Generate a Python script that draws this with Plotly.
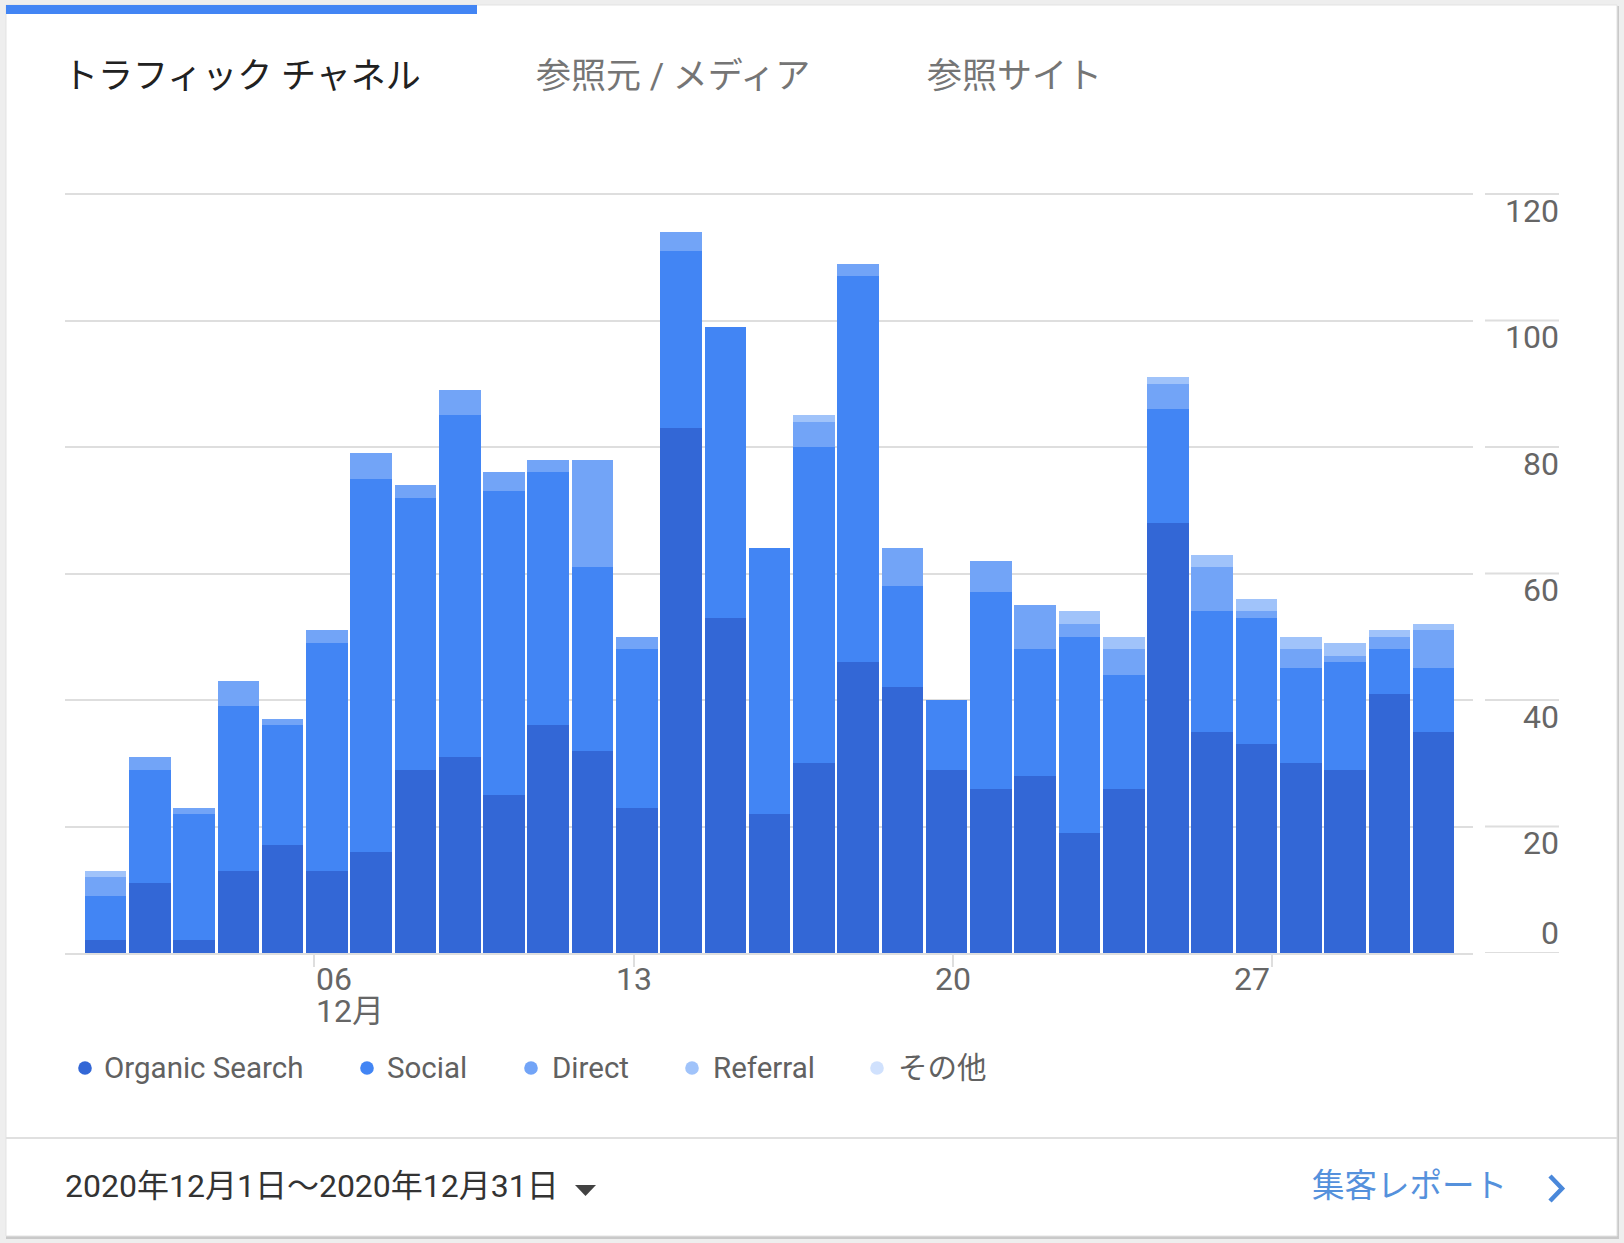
import plotly.graph_objects as go

# ---------------- data ----------------
days = list(range(1, 32))
organic = [2, 11, 2, 13, 17, 13, 16, 29, 31, 25, 36, 32, 23, 83, 53, 22,
           30, 46, 42, 29, 26, 28, 19, 26, 68, 35, 33, 30, 29, 41, 35]
social = [7, 18, 20, 26, 19, 36, 59, 43, 54, 48, 40, 29, 25, 28, 46, 42,
          50, 61, 16, 11, 31, 20, 31, 18, 18, 19, 20, 15, 17, 7, 10]
direct = [3, 2, 1, 4, 1, 2, 4, 2, 4, 3, 2, 17, 2, 3, 0, 0,
          4, 2, 6, 0, 5, 7, 2, 4, 4, 7, 1, 3, 1, 2, 6]
referral = [1, 0, 0, 0, 0, 0, 0, 0, 0, 0, 0, 0, 0, 0, 0, 0,
            1, 0, 0, 0, 0, 0, 2, 2, 1, 2, 2, 2, 2, 1, 1]
other = [0] * 31

series_names = ["Organic Search", "Social", "Direct", "Referral", "その他"]
series_colors = ["#3367d6", "#4285f4", "#72a4f7", "#a0c3fa", "#d0e1fd"]
series_values = [organic, social, direct, referral, other]

y_ticks = [0, 20, 40, 60, 80, 100, 120]
x_tick_days = [6, 13, 20, 27]
x_tick_text = ["06", "13", "20", "27"]
month_label = "12月"
tabs = ["トラフィック チャネル", "参照元 / メディア", "参照サイト"]
date_range_text = "2020年12月1日～2020年12月31日"
link_text = "集客レポート"

# ---------------- layout helpers ----------------
W, H = 1624, 1243
FONT = "Roboto, 'Noto Sans CJK JP', sans-serif"
GRID = "#dedede"


def px(x):
    return x / W


def py(y):
    return 1 - y / H


fig = go.Figure()
for name, col, vals in zip(series_names, series_colors, series_values):
    fig.add_trace(go.Bar(x=days, y=vals, name=name, marker=dict(color=col, line=dict(width=0)),
                         showlegend=False, xaxis="x", yaxis="y"))

shapes = []
annotations = []

# card background + shadow
shapes.append(dict(type="rect", xref="paper", yref="paper", layer="below",
                   x0=px(6), x1=px(1619), y0=py(1239), y1=py(6),
                   fillcolor="#c9c9c9", line=dict(width=0)))
shapes.append(dict(type="rect", xref="paper", yref="paper", layer="below",
                   x0=px(6), x1=px(1617), y0=py(1236), y1=py(5),
                   fillcolor="#ffffff", line=dict(color="#e3e3e3", width=1)))
# blue active tab bar
shapes.append(dict(type="rect", xref="paper", yref="paper",
                   x0=px(6), x1=px(477), y0=py(14), y1=py(5),
                   fillcolor="#4285f4", line=dict(width=0)))
# footer separator
shapes.append(dict(type="line", xref="paper", yref="paper",
                   x0=px(6), x1=px(1617), y0=py(1138), y1=py(1138),
                   line=dict(color="#e0e0e0", width=2)))

# right-side short grid segments and y labels
for v in y_ticks:
    shapes.append(dict(type="line", xref="paper", yref="y",
                       x0=px(1485), x1=px(1559), y0=v, y1=v,
                       line=dict(color=GRID, width=2)))
    annotations.append(dict(x=px(1561), xref="paper", y=v, yref="y",
                            text=str(v), showarrow=False, xanchor="right",
                            yanchor="middle", yshift=(20 if v == 0 else -17),
                            font=dict(family=FONT, size=32, color="#666666")))

# x tick labels
anchors = ["left", "center", "center", "right"]
for d, t, a in zip(x_tick_days, x_tick_text, anchors):
    annotations.append(dict(x=d, xref="x2", y=py(979), yref="paper", text=t,
                            showarrow=False, xanchor=a, yanchor="middle",
                            font=dict(family=FONT, size=32, color="#666666")))
annotations.append(dict(x=x_tick_days[0], xref="x2", y=py(1011), yref="paper",
                        text=month_label, showarrow=False, xanchor="left",
                        yanchor="middle",
                        font=dict(family=FONT, size=32, color="#666666")))

# tabs
tab_x = [61, 534, 925]
tab_col = ["#212121", "#757575", "#757575"]
for t, x, c in zip(tabs, tab_x, tab_col):
    annotations.append(dict(x=px(x), xref="paper", y=py(77), yref="paper", text=t,
                            showarrow=False, xanchor="left", yanchor="middle",
                            font=dict(family=FONT, size=35, color=c)))

# custom legend
dot_x = [85, 367, 531, 692, 877]
txt_x = [102, 385, 550, 711, 896]
ly = 1068
for name, col, dx, tx in zip(series_names, series_colors, dot_x, txt_x):
    r = 6.8
    shapes.append(dict(type="circle", xref="paper", yref="paper",
                       x0=px(dx - r), x1=px(dx + r), y0=py(ly + r), y1=py(ly - r),
                       fillcolor=col, line=dict(width=0)))
    annotations.append(dict(x=px(tx), xref="paper", y=py(ly), yref="paper", text=name,
                            showarrow=False, xanchor="left", yanchor="middle",
                            font=dict(family=FONT, size=29.5, color="#616161")))

# footer texts
annotations.append(dict(x=px(63), xref="paper", y=py(1186), yref="paper",
                        text=date_range_text, showarrow=False, xanchor="left",
                        yanchor="middle", font=dict(family=FONT, size=32, color="#333333")))
shapes.append(dict(type="path", xref="paper", yref="paper",
                   path=f"M {px(575)},{py(1185)} L {px(596)},{py(1185)} L {px(585.5)},{py(1196)} Z",
                   fillcolor="#424242", line=dict(width=0)))
annotations.append(dict(x=px(1310), xref="paper", y=py(1186), yref="paper",
                        text=link_text, showarrow=False, xanchor="left",
                        yanchor="middle", font=dict(family=FONT, size=32.5, color="#5591dc")))
shapes.append(dict(type="path", xref="paper", yref="paper",
                   path=f"M {px(1550)},{py(1176)} L {px(1562)},{py(1188.5)} L {px(1550)},{py(1201)}",
                   line=dict(color="#4a88da", width=4.5)))

fig.update_layout(
    width=W, height=H,
    margin=dict(l=0, r=0, t=0, b=0),
    paper_bgcolor="#eeeeee",
    plot_bgcolor="rgba(0,0,0,0)",
    barmode="stack",
    bargap=0.06,
    showlegend=False,
    font=dict(family=FONT),
    xaxis=dict(domain=[px(65), px(1473)], range=[0.083, 31.89], showgrid=False,
               zeroline=False, showticklabels=False, ticks="",
               showline=True, linecolor=GRID, linewidth=2, fixedrange=True),
    xaxis2=dict(domain=[px(65), px(1473)], range=[0.528, 31.41], overlaying="x",
                anchor="y", side="bottom", showgrid=False, zeroline=False,
                tickvals=x_tick_days, ticktext=[""] * len(x_tick_days),
                showticklabels=False, ticks="outside", ticklen=13,
                tickcolor=GRID, tickwidth=2, showline=False),
    yaxis=dict(domain=[py(953), py(181.35)], range=[0, 122], tickvals=y_ticks,
               showgrid=True, gridcolor=GRID, gridwidth=2, zeroline=False,
               showticklabels=False, ticks="", showline=False, fixedrange=True),
    shapes=shapes,
    annotations=annotations,
)

fig.write_html(
    "out.html",
    config={"displayModeBar": False},
    post_script="document.body.style.margin='0';document.body.style.background='#eeeeee';",
)
